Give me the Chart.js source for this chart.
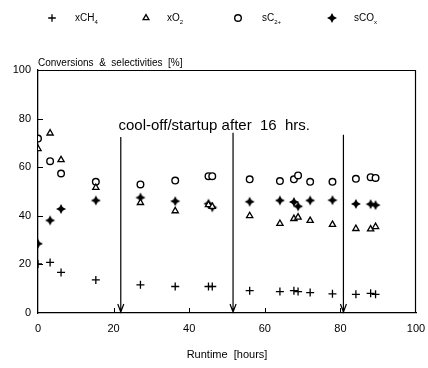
<!DOCTYPE html>
<html>
<head>
<meta charset="utf-8">
<title>Conversions & selectivities</title>
<script src="https://cdn.jsdelivr.net/npm/chart.js@4.4.1/dist/chart.umd.min.js"></script>
<style>
    html, body { margin: 0; padding: 0; background: #fff; }
    canvas { display: block; }
</style>
</head>
<body>
<canvas id="runtime-chart" width="428" height="368"></canvas>
<script>
// Runtime in hours for every measurement
const hours = [0, 3.2, 6.1, 15.3, 27.1, 36.3, 45.1, 46.1, 56, 64, 67.7, 68.8, 72, 77.9, 84.1, 88, 89.3];

// Conversions and selectivities in %
const xCH4 = [20.2, 20.8, 16.7, 13.6, 11.6, 10.9, 10.9, 10.9, 9.2, 8.8, 9.2, 8.8, 8.4, 7.9, 7.7, 8.1, 7.7];
const xO2 = [67.6, 74, 63, 51.6, 45.4, 42, 44.5, 43.8, 40, 36.8, 38.8, 39.4, 38, 36.4, 34.7, 34.5, 35.5];
const sC2 = [71.8, 62.5, 57.4, 54, 52.9, 54.5, 56.3, 56.3, 55, 54.3, 55, 56.6, 54, 54, 55.2, 55.9, 55.6];
const sCOx = [28.5, 38.1, 42.8, 46.3, 47.5, 46, 45, 43.5, 45.8, 46.3, 45.7, 43.9, 46.3, 46.4, 44.9, 44.8, 44.4];

// Cool-off / startup events (hours) and how high the arrows start (%)
const restartHours = [21.9, 51.6, 80.8];
const arrowTops = [72.4, 74.2, 73.4];

const xTicks = [0, 20, 40, 60, 80, 100];
const yTicks = [0, 20, 40, 60, 80, 100];

// legend text: [main, subscript]
const legendNames = [['xCH', '4'], ['xO', '2'], ['sC', '2+'], ['sCO', 'x']];
const legendRadius = [3.8, 3.4, 3.3, 5];

const FONT = '"Liberation Sans", Arial, sans-serif';

// filled four point star used for sCOx
function makeStar(r) {
    const c = document.createElement('canvas');
    c.width = c.height = r * 2 + 2;
    const g = c.getContext('2d');
    const m = r + 1;
    const k = r * 0.34;
    g.fillStyle = '#000';
    g.beginPath();
    g.moveTo(m, m - r);
    g.lineTo(m + k, m - k);
    g.lineTo(m + r, m);
    g.lineTo(m + k, m + k);
    g.lineTo(m, m + r);
    g.lineTo(m - k, m + k);
    g.lineTo(m - r, m);
    g.lineTo(m - k, m - k);
    g.closePath();
    g.fill();
    return c;
}
const star = makeStar(5);

function points(ys) {
    return hours.map((h, i) => ({ x: h, y: ys[i] }));
}

const datasets = [
    { label: 'xCH4', data: points(xCH4), pointStyle: 'cross', pointRadius: 4,
      borderColor: '#000', backgroundColor: '#000', pointBorderWidth: 1.3 },
    { label: 'xO2', data: points(xO2), pointStyle: 'triangle', pointRadius: 3.6,
      borderColor: '#000', backgroundColor: '#fff', pointBorderWidth: 1.3 },
    { label: 'sC2+', data: points(sC2), pointStyle: 'circle', pointRadius: 3.3,
      borderColor: '#000', backgroundColor: '#fff', pointBorderWidth: 1.4 },
    { label: 'sCOx', data: points(sCOx), pointStyle: star, pointRadius: 5,
      borderColor: '#000', backgroundColor: '#000', pointBorderWidth: 0 }
];

// texts, legend, inward ticks and the restart arrows
const decorations = {
    id: 'decorations',
    afterDraw(chart) {
        const ctx = chart.ctx;
        const xs = chart.scales.x;
        const ys = chart.scales.y;
        const area = chart.chartArea;
        ctx.save();
        ctx.fillStyle = '#000';
        ctx.strokeStyle = '#000';

        // inward tick marks
        ctx.lineWidth = 1;
        ctx.beginPath();
        xTicks.slice(1, -1).forEach(t => {
            const px = Math.round(xs.getPixelForValue(t)) + 0.5;
            ctx.moveTo(px, area.bottom);
            ctx.lineTo(px, area.bottom - 5);
        });
        yTicks.slice(1, -1).forEach(t => {
            const py = Math.round(ys.getPixelForValue(t)) + 0.5;
            ctx.moveTo(area.left, py);
            ctx.lineTo(area.left + 5, py);
        });
        ctx.stroke();

        // arrows
        ctx.lineWidth = 1.2;
        restartHours.forEach((h, i) => {
            const px = xs.getPixelForValue(h);
            const top = ys.getPixelForValue(arrowTops[i]);
            const bottom = ys.getPixelForValue(0);
            ctx.beginPath();
            ctx.moveTo(px, top);
            ctx.lineTo(px, bottom - 1);
            ctx.moveTo(px - 3, bottom - 9);
            ctx.lineTo(px, bottom - 1);
            ctx.lineTo(px + 3, bottom - 9);
            ctx.stroke();
        });

        // annotation above the arrows
        ctx.font = '15px ' + FONT;
        ctx.textBaseline = 'alphabetic';
        ctx.textAlign = 'left';
        ctx.fillText('cool-off/startup after  16  hrs.', xs.getPixelForValue(21.3), ys.getPixelForValue(75.5));

        // axis titles
        ctx.font = '10px ' + FONT;
        ctx.fillText('Conversions  &  selectivities  [%]', area.left, area.top - 4);
        ctx.textAlign = 'center';
        ctx.font = '11px ' + FONT;
        ctx.fillText('Runtime  [hours]', 227, 358);

        // legend
        const markX = [52, 146, 238, 332];
        const textX = [75, 167, 262, 354];
        const ly = 18;
        ctx.textAlign = 'left';
        ctx.textBaseline = 'middle';
        chart.data.datasets.forEach((ds, i) => {
            ctx.fillStyle = ds.backgroundColor;
            ctx.strokeStyle = ds.borderColor;
            ctx.lineWidth = ds.pointBorderWidth;
            Chart.helpers.drawPoint(ctx, {
                pointStyle: ds.pointStyle,
                radius: legendRadius[i],
                rotation: 0,
                borderWidth: ds.pointBorderWidth
            }, markX[i], ly);
            ctx.fillStyle = '#000';
            ctx.font = '10px ' + FONT;
            ctx.fillText(legendNames[i][0], textX[i], ly);
            const w = ctx.measureText(legendNames[i][0]).width;
            ctx.font = '6px ' + FONT;
            ctx.fillText(legendNames[i][1], textX[i] + w, ly + 4);
        });
        ctx.restore();
    }
};

const ctx = document.getElementById('runtime-chart').getContext('2d');
new Chart(ctx, {
    type: 'scatter',
    data: { datasets: datasets },
    options: {
        responsive: false,
        animation: false,
        layout: { padding: { left: 0, right: 12, top: 70, bottom: 0 } },
        plugins: {
            legend: { display: false },
            tooltip: { enabled: false }
        },
        scales: {
            x: {
                min: 0,
                max: 100,
                afterBuildTicks: s => { s.ticks = xTicks.map(v => ({ value: v })); },
                afterFit: s => {
                    s.height = 55;
                    // let the "100" label hang over the right edge
                    s.paddingLeft = 0;
                    s.paddingRight = 0;
                },
                grid: { display: false, drawTicks: false },
                border: { display: true, color: '#000', width: 1.3 },
                ticks: { color: '#000', padding: 9, maxRotation: 0, font: { family: FONT, size: 11 } }
            },
            y: {
                min: 0,
                max: 100,
                afterBuildTicks: s => { s.ticks = yTicks.map(v => ({ value: v })); },
                afterFit: s => { s.width = 38; },
                grid: { display: false, drawTicks: false },
                border: { display: true, color: '#000', width: 1.3 },
                ticks: { color: '#000', padding: 7, font: { family: FONT, size: 11 } }
            }
        }
    },
    plugins: [{
        // top and right frame lines
        id: 'frame',
        beforeDatasetsDraw(chart) {
            const a = chart.chartArea;
            const c = chart.ctx;
            c.save();
            c.strokeStyle = '#000';
            c.lineWidth = 1.2;
            c.beginPath();
            c.moveTo(a.left, a.top + 0.5);
            c.lineTo(a.right - 0.5, a.top + 0.5);
            c.lineTo(a.right - 0.5, a.bottom);
            c.stroke();
            c.restore();
        }
    }, decorations]
});
</script>
</body>
</html>
